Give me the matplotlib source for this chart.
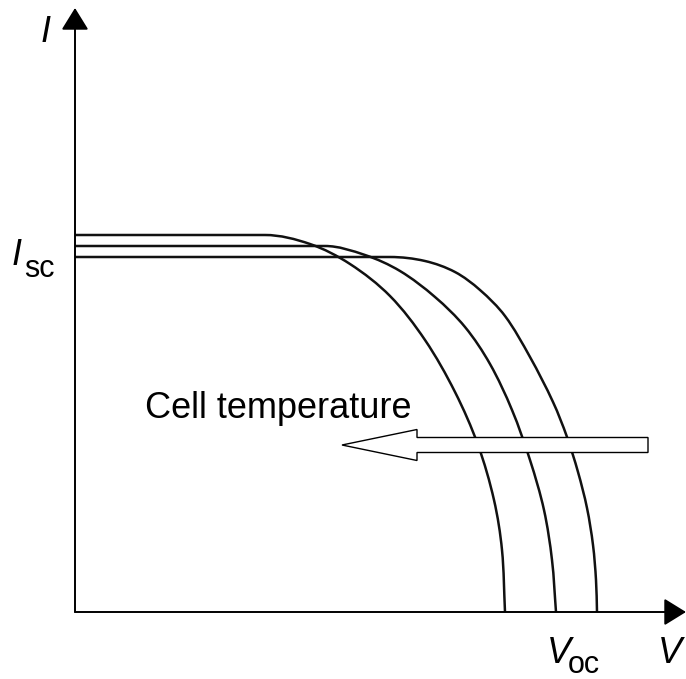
import numpy as np
import matplotlib
matplotlib.use("Agg")
import matplotlib.pyplot as plt
from matplotlib.patches import FancyArrow, PathPatch
from matplotlib.path import Path

plt.rcParams['font.family'] = ['Liberation Sans', 'DejaVu Sans']

# I-V curves (V and I in arbitrary units)
# hot cell: highest Isc, lowest Voc
v_hot = [0.000, 0.190, 0.235, 0.275, 0.315, 0.350, 0.380, 0.403, 0.419,
         0.427, 0.430]
i_hot = [3.77, 3.77, 3.68, 3.48, 3.16, 2.72, 2.20, 1.67, 1.12, 0.62, 0.00]

v_mid = [0.000, 0.250, 0.290, 0.325, 0.360, 0.390, 0.415, 0.437, 0.455,
         0.469, 0.477, 0.481]
i_mid = [3.66, 3.66, 3.57, 3.41, 3.15, 2.85, 2.48, 2.02, 1.52, 1.02, 0.52,
         0.00]

# cold cell: lowest Isc, highest Voc
v_cold = [0.000, 0.315, 0.350, 0.380, 0.405, 0.430, 0.455, 0.478, 0.492,
          0.503, 0.512, 0.518, 0.521, 0.522]
i_cold = [3.55, 3.55, 3.51, 3.40, 3.22, 2.96, 2.55, 2.10, 1.75, 1.40, 1.04,
          0.67, 0.32, 0.00]

curves = [(v_hot, i_hot), (v_mid, i_mid), (v_cold, i_cold)]

# pixels per data unit, used only to keep the curve smoothing isotropic
SX, SY = 1000.0, 100.0


def smooth_path(xs, ys):
    # flat part as a straight line, then a smooth Bezier through the points
    pts = np.column_stack([np.asarray(xs) * SX, np.asarray(ys) * SY])
    n = len(pts)
    tang = np.zeros_like(pts)
    for k in range(n):
        d = pts[min(k + 1, n - 1)] - pts[max(k - 1, 0)]
        tang[k] = d / np.hypot(*d)
    d0 = pts[1] - pts[0]
    tang[1] = d0 / np.hypot(*d0)
    verts = [pts[0], pts[1]]
    codes = [Path.MOVETO, Path.LINETO]
    for k in range(1, n - 1):
        seg = np.hypot(*(pts[k + 1] - pts[k])) / 3
        verts += [pts[k] + tang[k] * seg, pts[k + 1] - tang[k + 1] * seg,
                  pts[k + 1]]
        codes += [Path.CURVE4] * 3
    verts = np.array(verts) / [SX, SY]
    return Path(verts, codes)


fig = plt.figure(figsize=(6.86, 6.79), dpi=100)
ax = fig.add_axes([0, 0, 1, 1])
ax.set_xlim(-0.075, 0.611)
ax.set_ylim(-0.67, 6.12)
ax.axis('off')

for v, i in curves:
    ax.add_patch(PathPatch(smooth_path(v, i), fc='none', ec='#111111',
                           lw=1.8, capstyle='butt', zorder=2))

# axes with arrow heads
arrow_kw = dict(arrowstyle='-|>,head_length=0.68,head_width=0.42',
                mutation_scale=20, lw=1.4, color='black',
                shrinkA=0, shrinkB=0)
ax.annotate('', xy=(0, 6.04), xytext=(0, 0), arrowprops=arrow_kw, zorder=4)
ax.annotate('', xy=(0.611, 0), xytext=(0, 0), arrowprops=arrow_kw, zorder=4)

# hollow "Cell temperature" arrow pointing left
ax.add_patch(FancyArrow(0.573, 1.67, -0.306, 0, width=0.15, head_width=0.31,
                        head_length=0.075, length_includes_head=True,
                        fc='white', ec='black', lw=1.0, zorder=3))
ax.text(0.070, 1.94, 'Cell temperature', fontsize=26, ha='left',
        va='baseline', zorder=5)

# axis labels
ax.text(-0.029, 5.70, 'I', fontsize=26, style='italic', ha='center',
        va='baseline')
ax.text(-0.063, 3.47, 'I', fontsize=26, style='italic', ha='left',
        va='baseline')
ax.text(-0.051, 3.35, 'sc', fontsize=22, ha='left', va='baseline')
ax.text(0.472, -0.51, 'V', fontsize=26, style='italic', ha='left',
        va='baseline')
ax.text(0.493, -0.61, 'oc', fontsize=22, ha='left', va='baseline')
ax.text(0.583, -0.51, 'V', fontsize=26, style='italic', ha='left',
        va='baseline')

fig.savefig('out.png', dpi=100)
